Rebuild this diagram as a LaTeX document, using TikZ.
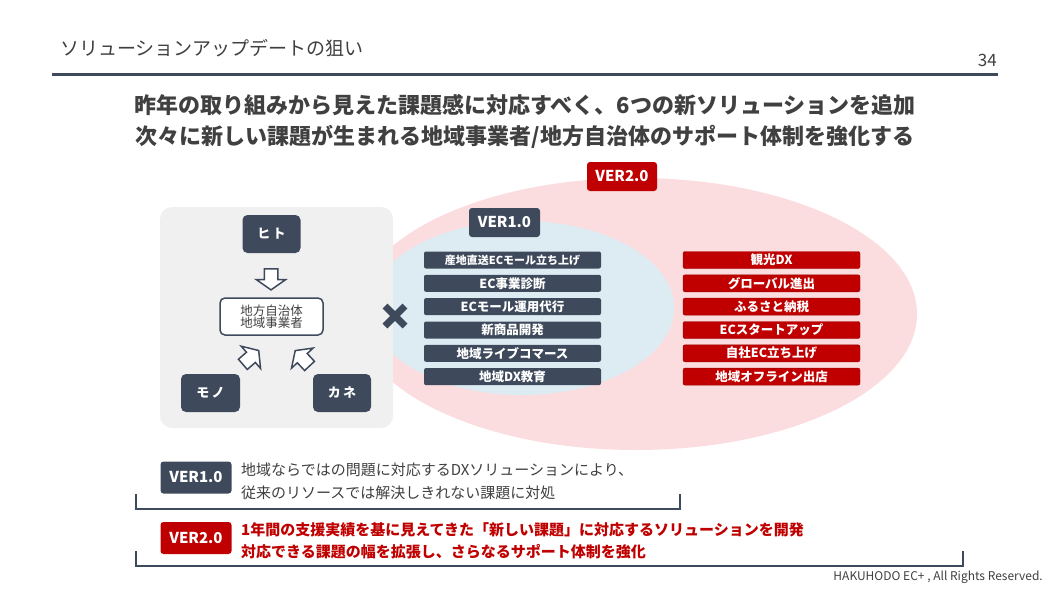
\documentclass[tikz,border=0pt]{standalone}
\usepackage{fontspec}
\setmainfont{Noto Sans CJK JP}
\usetikzlibrary{shapes.arrows,calc}
\definecolor{navy}{RGB}{62,74,92}
\definecolor{darkred}{RGB}{192,0,0}
\definecolor{pinkbg}{RGB}{251,220,223}
\definecolor{bluebg}{RGB}{221,236,243}
\definecolor{graybox}{RGB}{240,240,240}
\definecolor{txtgray}{RGB}{64,64,64}
\newcommand{\fs}[1]{\fontsize{#1}{#1}\selectfont}
\begin{document}
\begin{tikzpicture}[x=1pt,y=-1pt,
  verbox/.style={rounded corners=3pt, text=white, font=\bfseries\fs{15}, inner sep=0pt, minimum width=71pt, minimum height=30pt},
  navyver/.style={verbox, fill=navy},
  redver/.style={verbox, fill=darkred},
  item/.style={rounded corners=2pt, minimum width=177pt, minimum height=17pt, inner sep=0pt, text=white, font=\bfseries\fs{12.5}},
  blueitem/.style={item, fill=navy},
  reditem/.style={item, fill=darkred, draw=darkred!80!black, line width=0.4pt},
  res/.style={fill=navy, rounded corners=5pt, text=white, font=\bfseries\fs{13}, inner sep=0pt, minimum width=58pt, minimum height=38pt},
  blockarrow/.style={single arrow, draw=navy, fill=white, line width=1.5pt, inner sep=6pt, minimum height=21pt, single arrow head extend=8pt, single arrow tip angle=110},
  bodytext/.style={anchor=west, inner sep=0pt, font=\fs{15}},
  bracket/.style={draw=navy, line width=1.5pt}
]
\useasboundingbox (0,0) rectangle (1050,590);
\fill[white] (0,0) rectangle (1050,590);

% header
\node[anchor=west, inner sep=0pt, text=txtgray, font=\fs{19}] (title) at (60,48) {ソリューションアップデートの狙い};
\node[anchor=east, inner sep=0pt, text=txtgray, font=\fs{17}] (page) at (997,60) {34};
\draw[navy, line width=3pt] (52,74) -- (998,74);

\node[inner sep=0pt, text=txtgray, font=\bfseries\fs{22}] (head1) at (525,105) {昨年の取り組みから見えた課題感に対応すべく、6つの新ソリューションを追加};
\node[inner sep=0pt, text=txtgray, font=\bfseries\fs{22}] (head2) at (525,137) {次々に新しい課題が生まれる地域事業者/地方自治体のサポート体制を強化する};

% ellipses
\fill[pinkbg] (636,314) ellipse [x radius=281pt, y radius=136pt];
\fill[bluebg] (522,308) ellipse [x radius=152pt, y radius=87pt];

% gray box
\fill[graybox, rounded corners=12pt] (160,207) rectangle (393,428);

\node[res] (hito) at (271.5,234) {ヒ\,ト};
\node[res, minimum width=59pt] (mono) at (210.5,393) {モ\,ノ};
\node[res] (kane) at (342,393) {カ\,ネ};
\node[draw=navy, line width=1.5pt, fill=white, rounded corners=5pt, minimum width=103pt, minimum height=37pt, inner sep=0pt, align=center, text=txtgray, font=\fs{12.5}] (org) at (271.5,316.5) {地方自治体\\[0pt]地域事業者};

\node[blockarrow, rotate=-90] (a1) at (271,277) {};
\node[blockarrow, rotate=41] (a2) at (249,359) {};
\node[blockarrow, rotate=133] (a3) at (304,360) {};

% cross
\coordinate (xm) at (395,316);
\draw[navy, line width=7pt] ($(xm)+(-10,-10)$) -- ($(xm)+(10,10)$);
\draw[navy, line width=7pt] ($(xm)+(-10,10)$) -- ($(xm)+(10,-10)$);

% version labels
\node[redver, minimum height=29pt, minimum width=70pt] (v2) at (622,176.5) {VER2.0};
\node[navyver, minimum height=29pt] (v1) at (504.5,222.5) {VER1.0};

% lists
\node[blueitem, font=\bfseries\fs{11}] (b1) at (512.5,260) {産地直送ECモール立ち上げ};
\node[blueitem] (b2) at (512.5,283.3) {EC事業診断};
\node[blueitem] (b3) at (512.5,306.6) {ECモール運用代行};
\node[blueitem] (b4) at (512.5,330) {新商品開発};
\node[blueitem] (b5) at (512.5,353.3) {地域ライブコマース};
\node[blueitem] (b6) at (512.5,376.6) {地域DX教育};

\node[reditem] (r1) at (771.5,260) {観光DX};
\node[reditem] (r2) at (771.5,283.3) {グローバル進出};
\node[reditem] (r3) at (771.5,306.6) {ふるさと納税};
\node[reditem] (r4) at (771.5,330) {ECスタートアップ};
\node[reditem] (r5) at (771.5,353.3) {自社EC立ち上げ};
\node[reditem] (r6) at (771.5,376.6) {地域オフライン出店};

% bottom explanations
\node[navyver, minimum height=32pt] (bv1) at (196,477.5) {VER1.0};
\node[bodytext, text=txtgray] (t11) at (241,470) {地域ならではの問題に対応するDXソリューションにより、};
\node[bodytext, text=txtgray] (t12) at (241,493) {従来のリソースでは解決しきれない課題に対処};
\draw[bracket] (136,494) -- (136,509) -- (680,509) -- (680,494);

\node[redver, minimum height=32pt] (bv2) at (196,538) {VER2.0};
\node[bodytext, text=darkred, font=\bfseries\fs{15}] (t21) at (241,530) {1年間の支援実績を基に見えてきた「新しい課題」に対応するソリューションを開発};
\node[bodytext, text=darkred, font=\bfseries\fs{15}] (t22) at (241,552) {対応できる課題の幅を拡張し、さらなるサポート体制を強化};
\draw[bracket] (136,551) -- (136,566) -- (963,566) -- (963,551);

\node[anchor=east, inner sep=0pt, text=txtgray, font=\fs{12}] (foot) at (1043,577) {HAKUHODO EC+ , All Rights Reserved.};
\end{tikzpicture}
\end{document}
